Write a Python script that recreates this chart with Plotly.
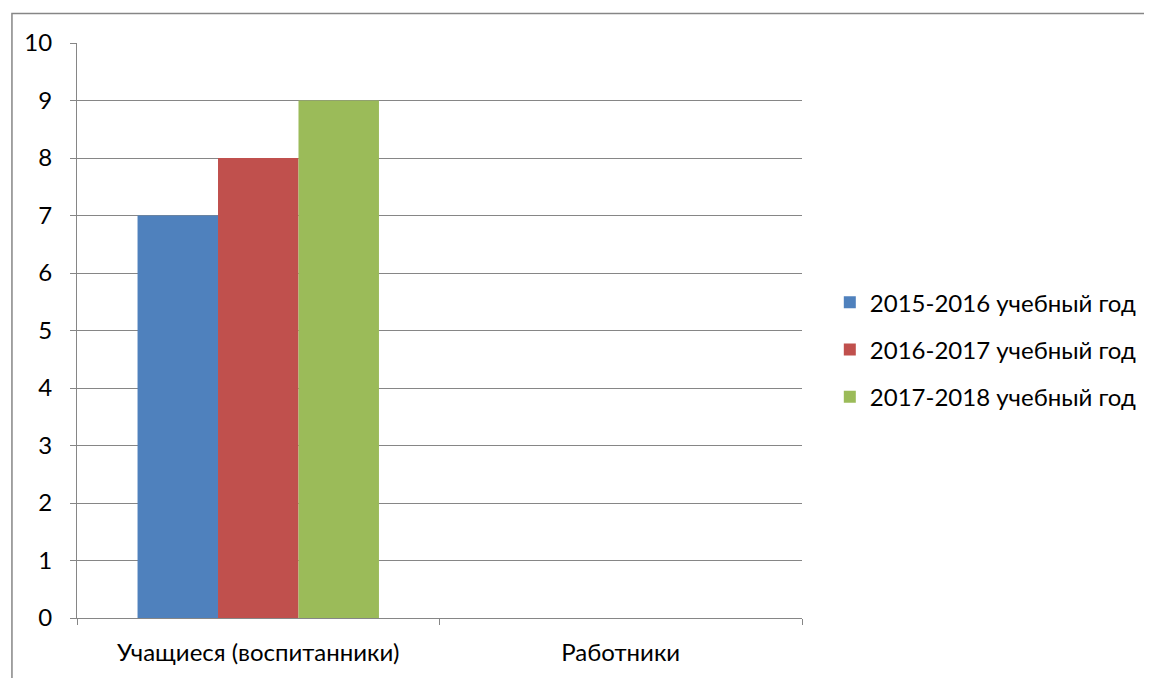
import plotly.graph_objects as go

categories = ["Учащиеся (воспитанники)", "Работники"]
series_names = ["2015-2016 учебный год", "2016-2017 учебный год", "2017-2018 учебный год"]
values_2015 = [7, 0]
values_2016 = [8, 0]
values_2017 = [9, 0]
colors = ["#4F81BD", "#C0504D", "#9BBB59"]
y_ticks = list(range(0, 11))

OFFX, OFFY = 6, 8  # page body margin compensation
W, H = 1152 - OFFX, 678 - OFFY
# target screen pixels of plot area
PX0, PX1, PY0, PY1 = 75, 805, 43, 620
L, T = PX0 - OFFX, PY0 - OFFY
R, B = W - (PX1 - OFFX), H - (PY1 - OFFY)
pw, ph = PX1 - PX0, PY1 - PY0

def px(x):
    return (x - PX0) / pw

def py(y):
    return (PY1 - y) / ph

fig = go.Figure()
for i, (name, vals) in enumerate(zip(series_names, [values_2015, values_2016, values_2017])):
    fig.add_trace(go.Bar(x=categories, y=vals, name=name, marker_color=colors[i],
                         marker_line_width=0, legendgroup=str(i)))

font = dict(family="Lato, 'Noto Sans', sans-serif", size=24, color="#000000")
grid = "#868686"

fig.update_layout(
    width=W, height=H,
    margin=dict(l=L, r=R, t=T, b=B),
    paper_bgcolor="white", plot_bgcolor="white",
    barmode="group", bargap=0.334, bargroupgap=0,
    font=font,
    showlegend=True,
    legend=dict(x=px(833), y=py(281), xanchor="left", yanchor="top",
                font=dict(family=font["family"], size=24, color="#000"),
                traceorder="grouped", tracegroupgap=13, itemwidth=30,
                bgcolor="rgba(0,0,0,0)"),
    xaxis=dict(showline=True, linecolor=grid, linewidth=1, ticks="outside", ticklen=6,
               tickcolor=grid, tickson="boundaries", showgrid=False, tickfont=font,
               ticklabelstandoff=13, fixedrange=True),
    yaxis=dict(range=[0, 10], tickvals=y_ticks, showline=True, linecolor=grid, linewidth=1,
               ticks="outside", ticklen=6, tickcolor=grid, showgrid=True, gridcolor=grid,
               gridwidth=1, tickfont=font, ticklabelstandoff=13, zeroline=False),
    shapes=[dict(type="rect", xref="paper", yref="paper",
                 x0=px(9.5), x1=px(1170), y0=py(700), y1=py(13.5),
                 line=dict(color="#868686", width=1.5), fillcolor="rgba(0,0,0,0)", layer="below")],
)

fig.write_html("out.html")
